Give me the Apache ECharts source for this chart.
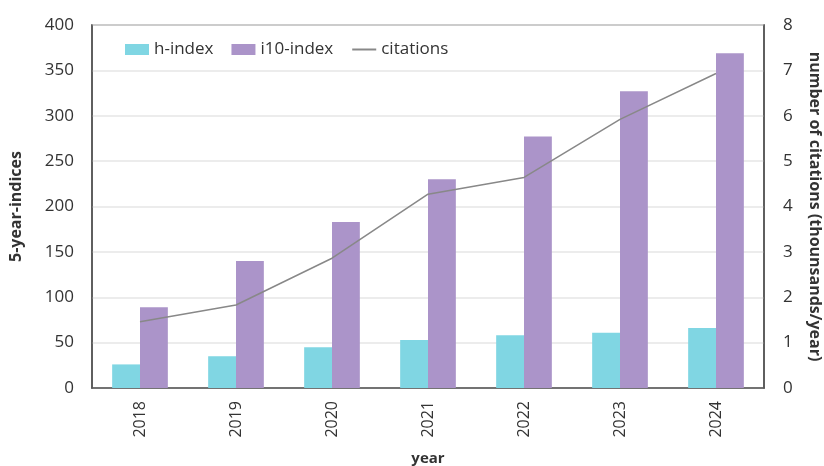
<!DOCTYPE html>
<html>
<head>
<meta charset="utf-8">
<script src="https://cdn.jsdelivr.net/npm/echarts@6/dist/echarts.min.js"></script>
<style>
  html, body { margin: 0; padding: 0; background: #fff; }
  #myEchart1 { width: 824px; height: 466px; }
</style>
</head>
<body>
<div id="myEchart1"></div>
<script>
var years = ['2018', '2019', '2020', '2021', '2022', '2023', '2024'];
var hIndex = [26, 35, 45, 53, 58, 61, 66];
var i10Index = [89, 140, 183, 230, 277, 327, 369];
var citations = [1.46, 1.83, 2.86, 4.27, 4.64, 5.92, 6.93];

var fontFamily = '"Open Sans", "DejaVu Sans", sans-serif';
var textColor = '#333';

var myChart = echarts.init(document.getElementById('myEchart1'));
var option = {
  textStyle: { fontFamily: fontFamily },
  animation: false,
  grid: {
    left: 92, right: 60, top: 25, bottom: 78,
    containLabel: false, outerBoundsMode: 'none',
    show: true, borderColor: '#555', borderWidth: 1.5
  },
  legend: {
    left: 120, top: 36,
    itemWidth: 24, itemHeight: 11, itemGap: 18,
    textStyle: { fontSize: 17, color: textColor },
    data: [
      { name: 'h-index', icon: 'rect' },
      { name: 'i10-index', icon: 'rect' },
      { name: 'citations', itemStyle: { opacity: 0 } }
    ]
  },
  xAxis: {
    type: 'category',
    data: years,
    name: 'year',
    nameLocation: 'middle',
    nameGap: 63,
    nameTextStyle: { fontSize: 15, fontWeight: 'bold', color: textColor },
    axisLine: { lineStyle: { color: '#555', width: 1.5 } },
    axisTick: { show: false },
    axisLabel: { rotate: 90, fontSize: 16, color: textColor, margin: 13 }
  },
  yAxis: [
    {
      type: 'value', min: 0, max: 400, interval: 50,
      name: '5-year-indices',
      nameLocation: 'middle',
      nameGap: 68,
      nameTextStyle: { fontSize: 16, fontWeight: 'bold', color: textColor },
      axisLine: { show: true, lineStyle: { color: '#555', width: 1.5 } },
      axisLabel: { fontSize: 17, color: textColor, margin: 18 },
      splitLine: { lineStyle: { color: '#e6e6e6', width: 1.5 } }
    },
    {
      type: 'value', min: 0, max: 8, interval: 1,
      name: 'number of citations (thounsands/year)',
      nameLocation: 'middle',
      nameGap: 43,
      nameRotate: -90,
      nameTextStyle: { fontSize: 16, fontWeight: 'bold', color: textColor },
      axisLine: { show: true, lineStyle: { color: '#555', width: 1.5 } },
      axisLabel: { fontSize: 17, color: textColor, margin: 19 },
      splitLine: { show: false }
    }
  ],
  series: [
    {
      name: 'h-index', type: 'bar', data: hIndex,
      barGap: '0%', barCategoryGap: '42%',
      itemStyle: { color: '#80d6e3' }
    },
    {
      name: 'i10-index', type: 'bar', data: i10Index,
      itemStyle: { color: '#ab94c9' }
    },
    {
      name: 'citations', type: 'line', yAxisIndex: 1, data: citations,
      symbol: 'none',
      lineStyle: { color: '#888', width: 1.5 },
      itemStyle: { color: '#888' }
    }
  ]
};

option && myChart.setOption(option);
</script>
</body>
</html>
